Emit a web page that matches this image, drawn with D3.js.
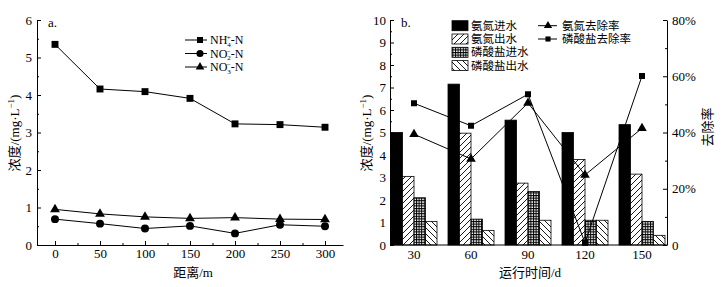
<!DOCTYPE html>
<html>
<head>
<meta charset="utf-8">
<script src="https://cdn.jsdelivr.net/npm/d3@7"></script>
<style>
  body { margin: 0; background: #fff; }
  text { font-family: "Liberation Serif", "Noto Sans CJK SC", serif; fill: #000; }
  .axis path, .axis line { stroke: #000; stroke-width: 1; }
  .axis text { font-size: 13px; font-family: "Liberation Serif", serif; }
</style>
</head>
<body>
<div id="chart-area"></div>
<script>
// ---- data: panel a ----
const distances = [0, 50, 100, 150, 200, 250, 300];
const nh4 = [5.35, 4.16, 4.09, 3.91, 3.23, 3.21, 3.14];
const no2 = [0.69, 0.57, 0.44, 0.51, 0.31, 0.54, 0.50];
const no3 = [0.95, 0.83, 0.75, 0.71, 0.73, 0.69, 0.68];

// ---- data: panel b ----
const days = ["30", "60", "90", "120", "150"];
const nhIn = [5.0, 7.15, 5.55, 5.0, 5.35];
const nhOut = [3.05, 4.97, 2.75, 3.8, 3.15];
const pIn = [2.1, 1.15, 2.38, 1.1, 1.05];
const pOut = [1.05, 0.65, 1.1, 1.1, 0.43];
const nhRate = [39.4, 30.6, 50.5, 24.9, 41.5];
const pRate = [50.4, 42.4, 53.6, 0.8, 60.1];
const barKeys = ["氨氮进水", "氨氮出水", "磷酸盐进水", "磷酸盐出水"];
const lineKeys = ["氨氮去除率", "磷酸盐去除率"];

const svg = d3.select("#chart-area").append("svg")
  .attr("width", 725).attr("height", 287);

// patterns
const defs = svg.append("defs");
function hatch(id, d) {
  const p = defs.append("pattern").attr("id", id)
    .attr("patternUnits", "userSpaceOnUse").attr("width", 6).attr("height", 6);
  p.append("rect").attr("width", 6).attr("height", 6).attr("fill", "#fff");
  p.append("path").attr("d", d).attr("stroke", "#000").attr("stroke-width", 0.9).attr("fill", "none");
}
hatch("fwd", "M-1,7 L7,-1 M-4,4 L4,-4 M2,10 L10,2");
hatch("bwd", "M-1,-1 L7,7 M-4,2 L4,10 M2,-4 L10,4");
const grid = defs.append("pattern").attr("id", "grid")
  .attr("patternUnits", "userSpaceOnUse").attr("width", 2.6).attr("height", 2.6);
grid.append("rect").attr("width", 2.6).attr("height", 2.6).attr("fill", "#fff");
grid.append("path").attr("d", "M0,0.5 H2.6 M0.5,0 V2.6").attr("stroke", "#000").attr("stroke-width", 1);
const fills = ["#000", "url(#fwd)", "url(#grid)", "url(#bwd)"];

// ================= panel a =================
const xa = d3.scaleLinear().domain([-20, 320]).range([37, 343]);
const ya = d3.scaleLinear().domain([0, 6]).range([245, 20]);
const ga = svg.append("g");

ga.append("g").attr("class", "axis").attr("transform", "translate(0,245)")
  .call(d3.axisBottom(xa).tickValues(distances).tickSizeInner(-4).tickSizeOuter(0).tickPadding(4));
ga.append("g").attr("class", "axis").attr("transform", "translate(0,245)")
  .call(d3.axisBottom(xa).tickValues([25, 75, 125, 175, 225, 275]).tickSizeInner(-2).tickSizeOuter(0).tickFormat(""))
  .select(".domain").remove();
ga.append("g").attr("class", "axis").attr("transform", "translate(37,0)")
  .call(d3.axisLeft(ya).ticks(6).tickSizeInner(-4).tickSizeOuter(0).tickPadding(5));
ga.append("g").attr("class", "axis").attr("transform", "translate(37,0)")
  .call(d3.axisLeft(ya).tickValues(d3.range(0.5, 6, 1)).tickSizeInner(-2).tickSizeOuter(0).tickFormat(""))
  .select(".domain").remove();

const lineA = d3.line().x((d, i) => xa(distances[i])).y(d => ya(d));
const seriesA = [
  {vals: nh4, sym: d3.symbolSquare, size: 48},
  {vals: no2, sym: d3.symbolCircle, size: 50},
  {vals: no3, sym: d3.symbolTriangle, size: 42}
];
seriesA.forEach(s => {
  ga.append("path").attr("d", lineA(s.vals)).attr("fill", "none").attr("stroke", "#000").attr("stroke-width", 1);
  ga.selectAll(null).data(s.vals).enter().append("path")
    .attr("d", d3.symbol().type(s.sym).size(s.size))
    .attr("transform", (d, i) => `translate(${xa(distances[i])},${ya(d)})`)
    .attr("fill", "#000");
});

ga.append("text").attr("x", 48).attr("y", 27).attr("font-size", 13).text("a.");
ga.append("text").attr("x", 193).attr("y", 277).attr("text-anchor", "middle").attr("font-size", 13)
  .text("距离/m");
ga.append("text").attr("transform", "translate(19,133) rotate(-90)").attr("text-anchor", "middle")
  .attr("font-size", 13).html("浓度/(mg·L<tspan dy='-5' font-size='9'>−1</tspan><tspan dy='5'>)</tspan>");

// legend a
const legA = [
  {sym: d3.symbolSquare, size: 36, base: "NH", sub: "4", sup: "+"},
  {sym: d3.symbolCircle, size: 40, base: "NO", sub: "2", sup: "−"},
  {sym: d3.symbolTriangle, size: 32, base: "NO", sub: "3", sup: "−"}
];
legA.forEach((l, i) => {
  const yy = 40 + i * 13.5;
  const row = ga.append("g").attr("transform", `translate(0,${yy})`);
  row.append("line").attr("x1", 185).attr("x2", 207).attr("stroke", "#000");
  row.append("path").attr("d", d3.symbol().type(l.sym).size(l.size)).attr("transform", "translate(200,0)");
  const t = row.append("text").attr("x", 210).attr("y", 4).attr("font-size", 12);
  t.append("tspan").text(l.base);
  t.append("tspan").attr("font-size", 7).attr("dy", 2.5).text(l.sub);
  t.append("tspan").attr("font-size", 7).attr("dx", -4).attr("dy", -6.5).text(l.sup);
  t.append("tspan").attr("dy", 4).text("-N");
});

// ================= panel b =================
const xb = d3.scalePoint().domain(days).range([414, 642]);
const sub = d3.scaleBand().domain(barKeys).range([-23, 23]);
const yb = d3.scaleLinear().domain([0, 10]).range([245, 20]);
const yr = d3.scaleLinear().domain([0, 80]).range([245, 20]);
const gb = svg.append("g");

const barSeries = [nhIn, nhOut, pIn, pOut];
barSeries.forEach((vals, k) => {
  gb.selectAll(null).data(vals).enter().append("rect")
    .attr("x", (d, i) => xb(days[i]) + sub(barKeys[k]))
    .attr("y", d => yb(d))
    .attr("width", sub.bandwidth())
    .attr("height", d => 245 - yb(d))
    .attr("fill", fills[k])
    .attr("stroke", "#000").attr("stroke-width", 0.8);
});

// bottom axis (no ticks)
gb.append("line").attr("x1", 390).attr("x2", 667).attr("y1", 245).attr("y2", 245).attr("stroke", "#000");
gb.selectAll(null).data(days).enter().append("text")
  .attr("x", d => xb(d)).attr("y", 259).attr("text-anchor", "middle").attr("font-size", 13).text(d => d);

gb.append("g").attr("class", "axis").attr("transform", "translate(390,0)")
  .call(d3.axisLeft(yb).ticks(10).tickSizeInner(-4).tickSizeOuter(0).tickPadding(4));
gb.append("g").attr("class", "axis").attr("transform", "translate(390,0)")
  .call(d3.axisLeft(yb).tickValues(d3.range(0.5, 10, 1)).tickSizeInner(-2).tickSizeOuter(0).tickFormat(""))
  .select(".domain").remove();
gb.append("g").attr("class", "axis").attr("transform", "translate(667,0)")
  .call(d3.axisRight(yr).tickValues([0, 20, 40, 60, 80]).tickFormat(d => d === 0 ? "0" : d + "%")
    .tickSizeInner(-4).tickSizeOuter(0).tickPadding(5));
gb.append("g").attr("class", "axis").attr("transform", "translate(667,0)")
  .call(d3.axisRight(yr).tickValues([10, 30, 50, 70]).tickSizeInner(-2).tickSizeOuter(0).tickFormat(""))
  .select(".domain").remove();

const lineB = d3.line().x((d, i) => xb(days[i])).y(d => yr(d));
[{vals: nhRate, sym: d3.symbolTriangle, size: 40}, {vals: pRate, sym: d3.symbolSquare, size: 36}].forEach(s => {
  gb.append("path").attr("d", lineB(s.vals)).attr("fill", "none").attr("stroke", "#000").attr("stroke-width", 1);
  gb.selectAll(null).data(s.vals).enter().append("path")
    .attr("d", d3.symbol().type(s.sym).size(s.size))
    .attr("transform", (d, i) => `translate(${xb(days[i])},${yr(d)})`)
    .attr("fill", "#000");
});

gb.append("text").attr("x", 401).attr("y", 27).attr("font-size", 13).text("b.");
gb.append("text").attr("x", 530).attr("y", 277).attr("text-anchor", "middle").attr("font-size", 13)
  .text("运行时间/d");
gb.append("text").attr("transform", "translate(371,133) rotate(-90)").attr("text-anchor", "middle")
  .attr("font-size", 13).html("浓度/(mg·L<tspan dy='-5' font-size='9'>−1</tspan><tspan dy='5'>)</tspan>");
gb.append("text").attr("transform", "translate(712,127) rotate(-90)").attr("text-anchor", "middle")
  .attr("font-size", 13).text("去除率");

// legend b
barKeys.forEach((k, i) => {
  const yy = 25.7 + i * 13.3;
  gb.append("rect").attr("x", 452).attr("y", yy - 5).attr("width", 16).attr("height", 10)
    .attr("fill", fills[i]).attr("stroke", "#000").attr("stroke-width", 0.8);
  gb.append("text").attr("x", 471).attr("y", yy + 4).attr("font-size", 11.5).text(k);
});
[{sym: d3.symbolTriangle, size: 30}, {sym: d3.symbolSquare, size: 26}].forEach((l, i) => {
  const yy = 25.7 + i * 13.3;
  gb.append("line").attr("x1", 538).attr("x2", 557).attr("y1", yy).attr("y2", yy).attr("stroke", "#000");
  gb.append("path").attr("d", d3.symbol().type(l.sym).size(l.size)).attr("transform", `translate(548,${yy})`);
  gb.append("text").attr("x", 562).attr("y", yy + 4).attr("font-size", 11.5).text(lineKeys[i]);
});
</script>
</body>
</html>
